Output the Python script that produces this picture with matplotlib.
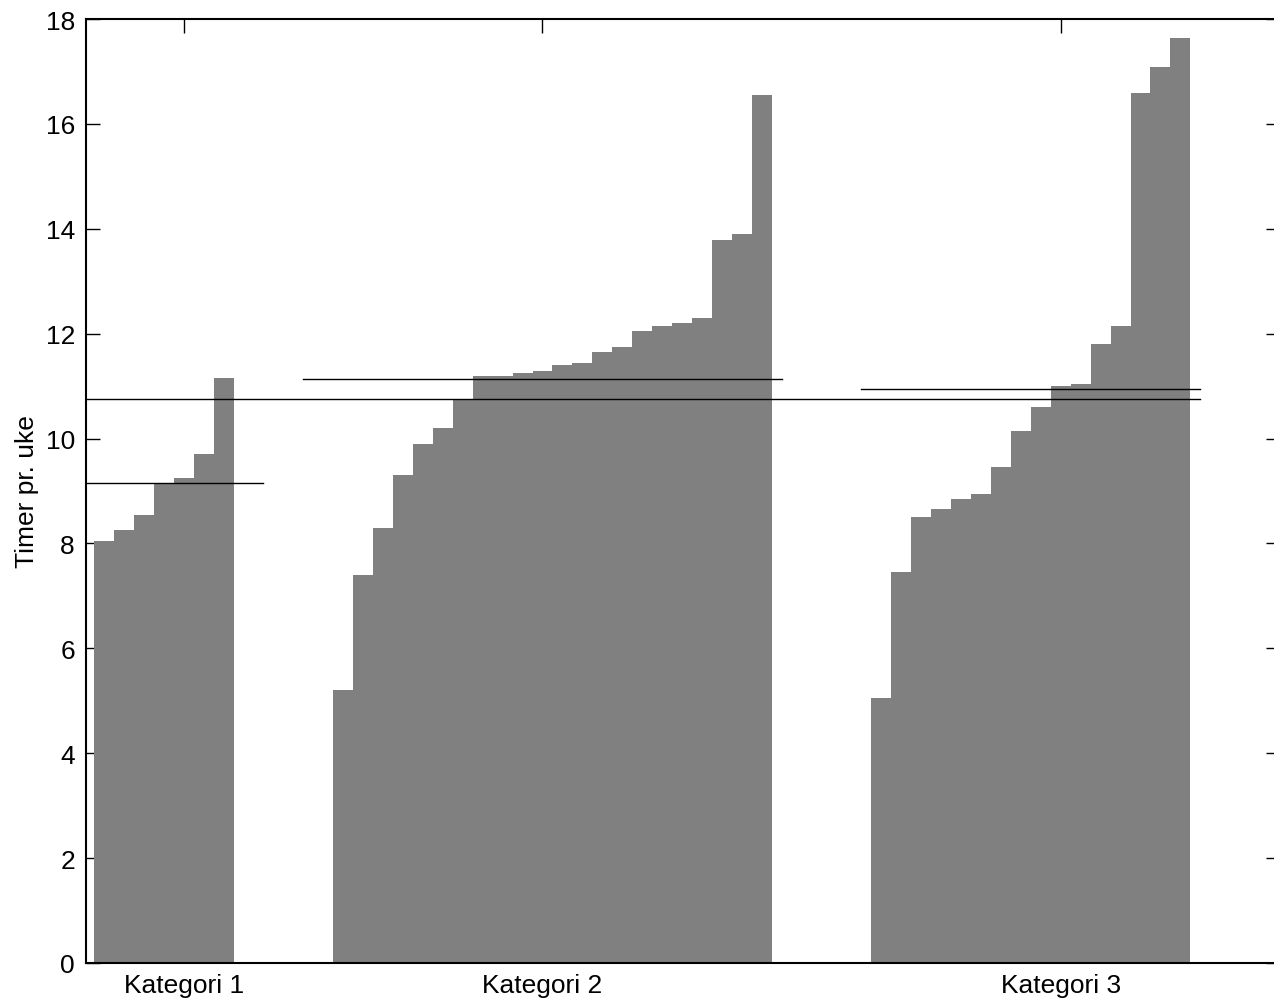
import matplotlib
matplotlib.use("Agg")
import matplotlib.pyplot as plt
import numpy as np

plt.rcParams["font.family"] = ["Liberation Sans", "DejaVu Sans"]

# Weekly hours per respondent, sorted within each category
categories = ["Kategori 1", "Kategori 2", "Kategori 3"]
kat1 = [8.04, 8.26, 8.55, 9.15, 9.25, 9.71, 11.16]
kat2 = [5.21, 7.40, 8.30, 9.31, 9.90, 10.20, 10.75, 11.19, 11.19, 11.25, 11.29,
        11.40, 11.44, 11.65, 11.75, 12.05, 12.15, 12.20, 12.30, 13.79, 13.90, 16.55]
kat3 = [5.05, 7.46, 8.51, 8.66, 8.85, 8.95, 9.46, 10.15, 10.61, 11.00, 11.04,
        11.81, 12.15, 16.59, 17.09, 17.64]
groups = [kat1, kat2, kat3]

# Layout: first bar slot of each group, category tick slots, mean-line spans
group_start = [1, 13, 40]
tick_pos = [5, 23, 49]
mean_span = [(-1, 9), (11, 35), (39, 56)]
ytick_vals = list(range(0, 19, 2))

W, H = 1274, 1003
fig = plt.figure(figsize=(W / 100, H / 100), dpi=100)
ax = fig.add_axes([86 / W, (H - 964) / H, (1280 - 86) / W, (964 - 20) / H])

for start, vals in zip(group_start, groups):
    x = np.arange(start, start + len(vals))
    ax.bar(x, vals, width=1.0, color="#808080", linewidth=0, zorder=1)

for (x0, x1), vals in zip(mean_span, groups):
    ax.plot([x0, x1], [np.mean(vals)] * 2, color="black", lw=1.0, zorder=3)

all_vals = np.concatenate([np.asarray(g) for g in groups])
ax.plot([-1, mean_span[-1][1]], [all_vals.mean()] * 2, color="black", lw=1.0, zorder=3)

ax.set_xlim(0.1, 60)
ax.set_ylim(0, 18)
ax.set_axisbelow(True)

fs = 19
ax.set_xticks(tick_pos)
ax.set_xticklabels(categories, fontsize=fs)
ax.set_yticks(ytick_vals)
ax.set_yticklabels([str(v) for v in ytick_vals], fontsize=fs)
ax.tick_params(axis="both", direction="in", length=10, width=1.0,
               top=True, right=True, pad=8)
ax.tick_params(axis="x", pad=7)
ax.set_ylabel("Timer pr. uke", fontsize=fs, labelpad=5)

for s in ax.spines.values():
    s.set_linewidth(1.5)

fig.savefig("out.png", dpi=100)
